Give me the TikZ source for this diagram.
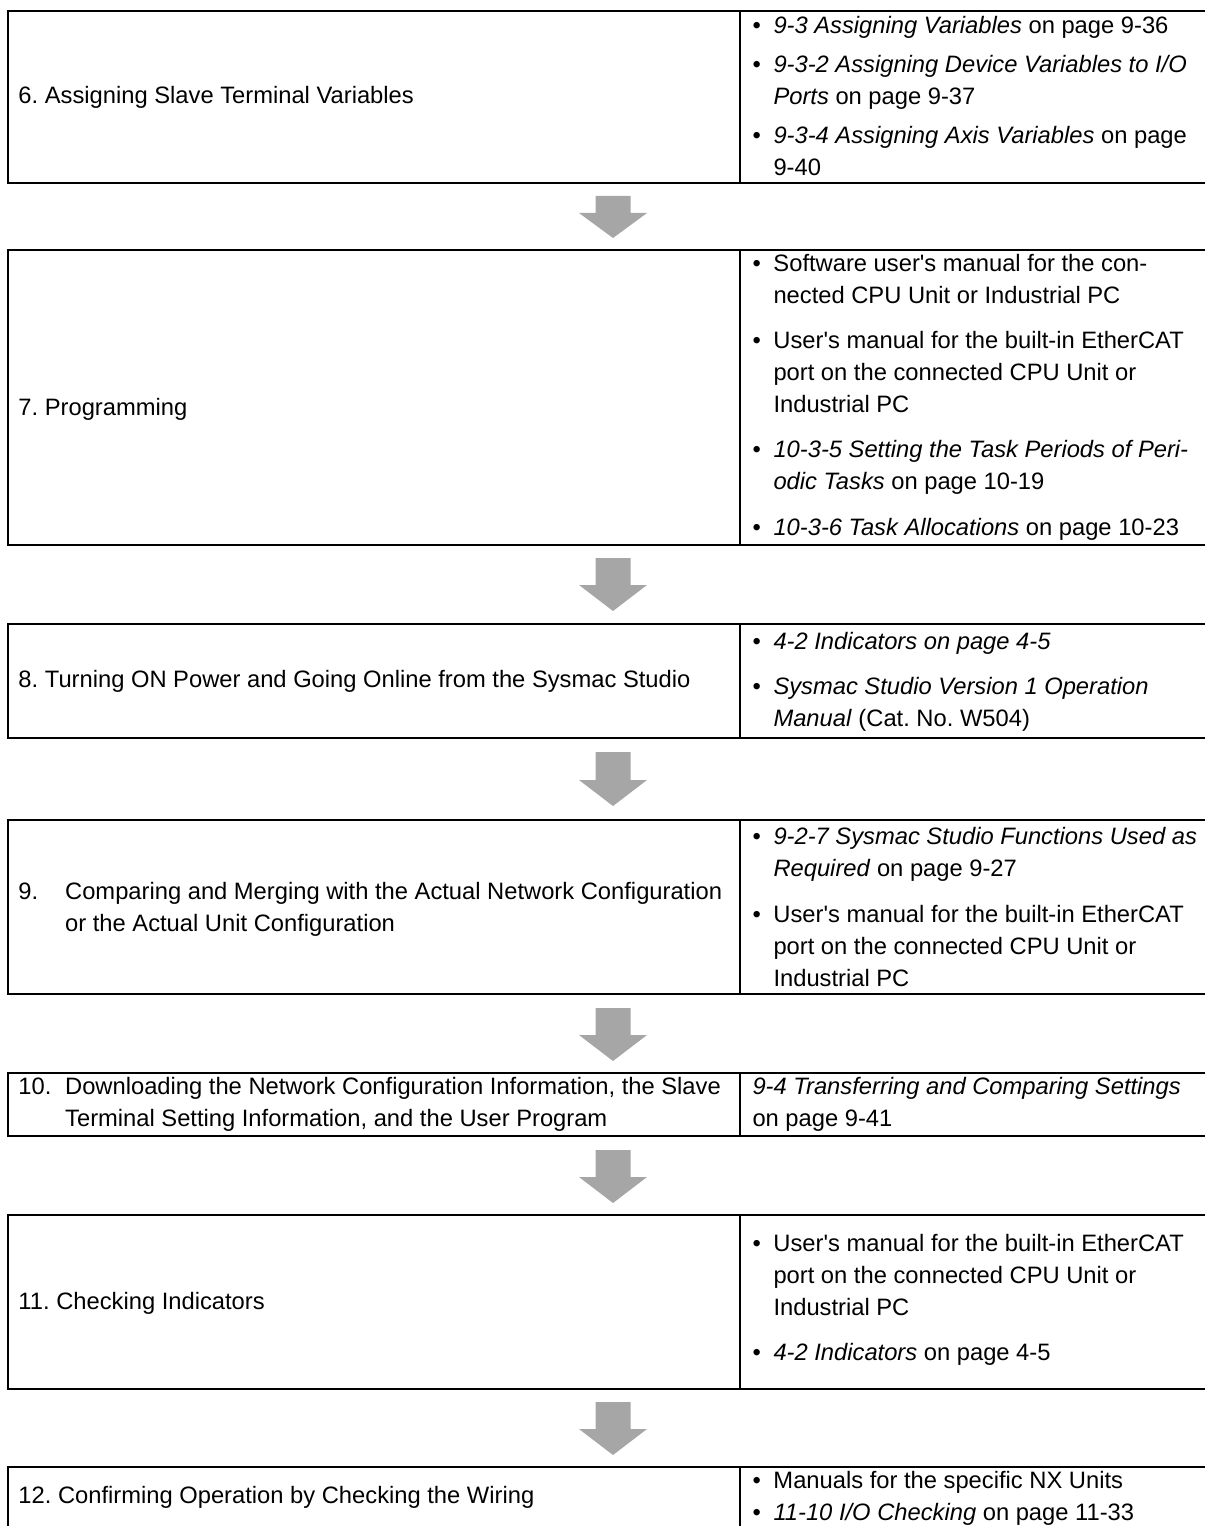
\documentclass[tikz,border=0pt]{standalone}
\usepackage{fontspec}
\setmainfont{Liberation Sans}[Ligatures=TeXOff]
\frenchspacing
\tikzset{every picture/.style={line width=0.75pt}}
\newcommand{\bul}{\makebox[15.75pt][l]{\textbullet}}
\newcommand{\ind}{\hspace*{15.75pt}}
\newcommand{\num}[1]{\makebox[35pt][l]{#1}}
\newcommand{\hang}{\hspace*{35pt}}

\begin{document}
\begin{tikzpicture}[x=0.75pt,y=0.75pt,yscale=-1,xscale=1,
  stepbox/.style={line width=1.6pt},
  downarrow/.style={fill={rgb, 255:red, 166; green, 166; blue, 166}, draw=none},
  every node/.style={inner sep=0pt, font=\fontsize{17.8}{24}\selectfont}]
\useasboundingbox (0,0) rectangle (1205,1526);

%Shape: Rectangle [id:box6]
\draw [stepbox] (8,11) rectangle (1220,183);
\draw [stepbox] (740,11) -- (740,183);
%Shape: Rectangle [id:box7]
\draw [stepbox] (8,250) rectangle (1220,545);
\draw [stepbox] (740,250) -- (740,545);
%Shape: Rectangle [id:box8]
\draw [stepbox] (8,624) rectangle (1220,738);
\draw [stepbox] (740,624) -- (740,738);
%Shape: Rectangle [id:box9]
\draw [stepbox] (8,820) rectangle (1220,994);
\draw [stepbox] (740,820) -- (740,994);
%Shape: Rectangle [id:box10]
\draw [stepbox] (8,1073) rectangle (1220,1136);
\draw [stepbox] (740,1073) -- (740,1136);
%Shape: Rectangle [id:box11]
\draw [stepbox] (8,1215) rectangle (1220,1389);
\draw [stepbox] (740,1215) -- (740,1389);
%Shape: Rectangle [id:box12]
\draw [stepbox] (8,1467) rectangle (1220,1560);
\draw [stepbox] (740,1467) -- (740,1560);

%Shape: Down Arrow [id:arr1]
\fill [downarrow] (595.5,196) -- (630.5,196) -- (630.5,213) -- (647,213) -- (613,238) -- (579,213) -- (595.5,213) -- cycle ;
%Shape: Down Arrow [id:arr2]
\fill [downarrow] (595.5,558) -- (630.5,558) -- (630.5,585) -- (647,585) -- (613,611) -- (579,585) -- (595.5,585) -- cycle ;
%Shape: Down Arrow [id:arr3]
\fill [downarrow] (595.5,752) -- (630.5,752) -- (630.5,780) -- (647,780) -- (613,806) -- (579,780) -- (595.5,780) -- cycle ;
%Shape: Down Arrow [id:arr4]
\fill [downarrow] (595.5,1008) -- (630.5,1008) -- (630.5,1035) -- (647,1035) -- (613,1061) -- (579,1035) -- (595.5,1035) -- cycle ;
%Shape: Down Arrow [id:arr5]
\fill [downarrow] (595.5,1150) -- (630.5,1150) -- (630.5,1177) -- (647,1177) -- (613,1203) -- (579,1177) -- (595.5,1177) -- cycle ;
%Shape: Down Arrow [id:arr6]
\fill [downarrow] (595.5,1402) -- (630.5,1402) -- (630.5,1429) -- (647,1429) -- (613,1455) -- (579,1429) -- (595.5,1429) -- cycle ;

% Text Node
\draw (18,97) node (step6) [anchor=west, align=left] {6. Assigning Slave Terminal Variables};
% Text Node
\draw (752,96) node (ref6) [anchor=west, align=left] {\bul\textit{9-3 Assigning Variables} on page 9-36\\[5pt]
  \bul\textit{9-3-2 Assigning Device Variables to I/O}\\
  \ind\textit{Ports} on page 9-37\\[5pt]
  \bul\textit{9-3-4 Assigning Axis Variables} on page\\
  \ind 9-40};
% Text Node
\draw (18,409) node (step7) [anchor=west, align=left] {7. Programming};
% Text Node
\draw (752,397) node (ref7) [anchor=west, align=left] {\bul Software user's manual for the con-\\
  \ind nected CPU Unit or Industrial PC\\[10pt]
  \bul User's manual for the built-in EtherCAT\\
  \ind port on the connected CPU Unit or\\
  \ind Industrial PC\\[10pt]
  \bul\textit{10-3-5 Setting the Task Periods of Peri-}\\
  \ind\textit{odic Tasks} on page 10-19\\[10pt]
  \bul\textit{10-3-6 Task Allocations} on page 10-23};
% Text Node
\draw (18,681) node (step8) [anchor=west, align=left] {8. Turning ON Power and Going Online from the Sysmac Studio};
% Text Node
\draw (752,682) node (ref8) [anchor=west, align=left] {\bul\textit{4-2 Indicators on page 4-5}\\[10pt]
  \bul\textit{Sysmac Studio Version 1 Operation}\\
  \ind\textit{Manual} (Cat. No. W504)};
% Text Node
\draw (18,909) node (step9) [anchor=west, align=left] {\num{9.}Comparing and Merging with the Actual Network Configuration\\
  \hang or the Actual Unit Configuration};
% Text Node
\draw (752,907) node (ref9) [anchor=west, align=left] {\bul\textit{9-2-7 Sysmac Studio Functions Used as}\\
  \ind\textit{Required} on page 9-27\\[10pt]
  \bul User's manual for the built-in EtherCAT\\
  \ind port on the connected CPU Unit or\\
  \ind Industrial PC};
% Text Node
\draw (18,1104) node (step10) [anchor=west, align=left] {\num{10.}Downloading the Network Configuration Information, the Slave\\
  \hang Terminal Setting Information, and the User Program};
% Text Node
\draw (752,1104) node (ref10) [anchor=west, align=left] {\textit{9-4 Transferring and Comparing Settings}\\
  on page 9-41};
% Text Node
\draw (18,1303) node (step11) [anchor=west, align=left] {11. Checking Indicators};
% Text Node
\draw (752,1300) node (ref11) [anchor=west, align=left] {\bul User's manual for the built-in EtherCAT\\
  \ind port on the connected CPU Unit or\\
  \ind Industrial PC\\[10pt]
  \bul\textit{4-2 Indicators} on page 4-5};
% Text Node
\draw (18,1497) node (step12) [anchor=west, align=left] {12. Confirming Operation by Checking the Wiring};
% Text Node
\draw (752,1482) node (ref12a) [anchor=west, align=left] {\bul Manuals for the specific NX Units};
% Text Node
\draw (752,1514) node (ref12b) [anchor=west, align=left] {\bul\textit{11-10 I/O Checking} on page 11-33};

\end{tikzpicture}
\end{document}
